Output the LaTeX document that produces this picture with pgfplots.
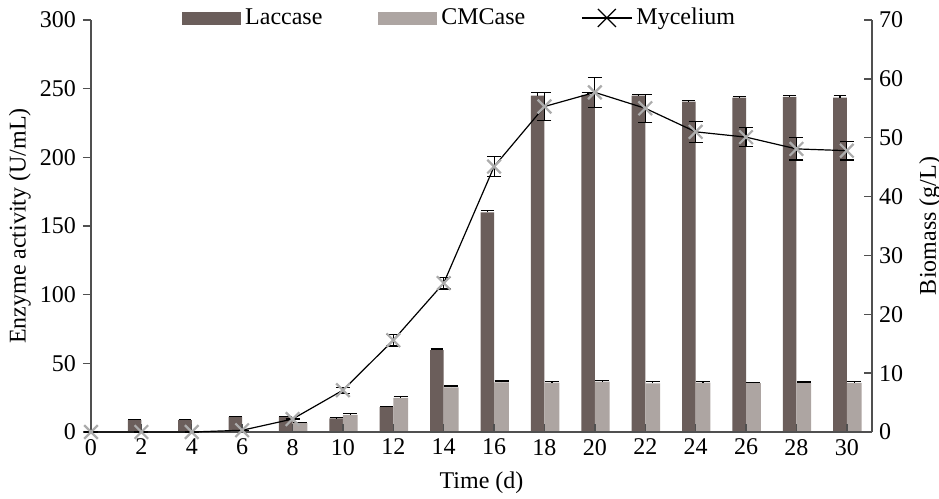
\documentclass[border=0pt]{standalone}
\usepackage{pgfplots}
\usepackage{pgfplotstable}
\pgfplotsset{compat=1.18}
\usepackage{fontspec}
\setmainfont{Liberation Serif}
\definecolor{lac}{HTML}{6B5E5B}
\definecolor{cmc}{HTML}{ADA5A2}
\definecolor{axc}{HTML}{505050}

\pgfplotstableread{
x y e
2 8.7 0.5
4 8.7 0.5
6 11 0.5
8 11 0.5
10 10 0.5
12 18.2 0.5
14 59.7 0.8
16 160 1.5
18 245 2
20 245.5 1.5
22 245 1
24 240.5 1
26 243.5 1
28 244 1
30 243.5 1.5
}\laccase

\pgfplotstableread{
x y e
8 6.5 0.5
10 12.4 0.8
12 24.8 1
14 32.5 1
16 36.2 1
18 35.9 0.8
20 36.6 0.8
22 35.5 1.2
24 36 0.8
26 35.6 0.6
28 35.8 0.6
30 35.8 1
}\cmcase

\pgfplotstableread{
x y e
0 0 0
2 0 0
4 0 0
6 0.3 0
8 2.2 0
10 7.1 0.5
12 15.6 1
14 25.3 1
16 45.1 1.7
18 55.3 2.4
20 57.7 2.5
22 55.0 2.4
24 51.0 1.8
26 50.1 1.6
28 48.1 1.9
30 47.8 1.6
}\mycelium

\begin{document}
\begin{tikzpicture}[font=\fontsize{12}{14}\selectfont]
\begin{axis}[
  scale only axis, width=390.5pt, height=206pt,
  xmin=0, xmax=31, ymin=0, ymax=300,
  axis x line*=bottom, axis y line*=left,
  axis line style={axc, line width=0.7pt},
  xtick=\empty,
  ytick={0,50,...,300},
  tick align=outside,
  major tick length=4pt,
  tick style={axc, line width=0.7pt},
  /pgf/number format/assume math mode=true,
  ylabel={Enzyme activity (U/mL)},
  ylabel style={at={(axis description cs:-0.0909,0.5)}, anchor=center},
  clip=false,
]
\addplot[ybar, bar width=6.8pt, bar shift=-3.4pt, fill=lac, draw=none]
  table[x=x, y=y]{\laccase};
\addplot[ybar, bar width=7.4pt, bar shift=3.7pt, fill=cmc, draw=none]
  table[x=x, y=y]{\cmcase};
% error bars at the bar centres
\addplot[draw=none, mark=none, forget plot,
  error bars/.cd, y dir=plus, y explicit,
  error bar style={draw=black, line width=0.6pt},
  error mark options={rotate=90, mark size=3.2pt, draw=black, line width=0.6pt}]
  table[x expr=\thisrow{x}-0.27, y=y, y error=e]{\laccase};
\addplot[draw=none, mark=none, forget plot,
  error bars/.cd, y dir=plus, y explicit,
  error bar style={draw=black, line width=0.6pt},
  error mark options={rotate=90, mark size=3.5pt, draw=black, line width=0.6pt}]
  table[x expr=\thisrow{x}+0.294, y=y, y error=e]{\cmcase};
\end{axis}
\begin{axis}[
  name=ax,
  scale only axis, width=390.5pt, height=206pt,
  xmin=0, xmax=31, ymin=0, ymax=70,
  axis x line*=bottom, axis y line*=right,
  axis line style={axc, line width=0.7pt},
  xtick={0,2,...,30},
  ytick={0,10,...,70},
  tick align=inside,
  major tick length=4pt,
  tick style={axc, line width=0.7pt},
  /pgf/number format/assume math mode=true,
  xlabel={Time (d)},
  xlabel style={at={(axis description cs:0.5,-0.1238)}, anchor=center},
  ylabel={Biomass (g/L)},
  ylabel style={at={(axis description cs:1.0743,0.5)}, anchor=center},
  clip=false,
  legend columns=3,
  legend style={draw=none, fill=none, at={(0.1165,1.005)}, anchor=west, inner sep=0pt,
    /tikz/every even column/.append style={column sep=26pt}},
]
\addlegendimage{legend image code/.code={\fill[lac] (0pt,-3pt) rectangle (29pt,3pt);}}
\addlegendentry{Laccase}
\addlegendimage{legend image code/.code={\fill[cmc] (0pt,-3pt) rectangle (29pt,3pt);}}
\addlegendentry{CMCase}
\addlegendimage{legend image code/.code={\draw[black, line width=0.6pt] (0pt,0pt) -- (25pt,0pt); \draw[black, line width=0.6pt] (8pt,-4.5pt) -- (17pt,4.5pt) (8pt,4.5pt) -- (17pt,-4.5pt);}}
\addlegendentry{Mycelium}
\addplot[forget plot, black, line width=0.6pt, mark=x, mark size=4.8pt,
  mark options={draw=gray!65, line width=1.1pt},
  error bars/.cd, y dir=both, y explicit,
  error bar style={black, line width=0.6pt},
  error mark options={rotate=90, mark size=3.5pt, black, line width=0.6pt}]
  table[x=x, y=y, y error=e]{\mycelium};
\end{axis}
\pgfresetboundingbox
\path[use as bounding box] ([shift={(-45.5pt,-33pt)}]ax.south west) rectangle ([shift={(33.5pt,10pt)}]ax.north east);
\end{tikzpicture}
\end{document}
